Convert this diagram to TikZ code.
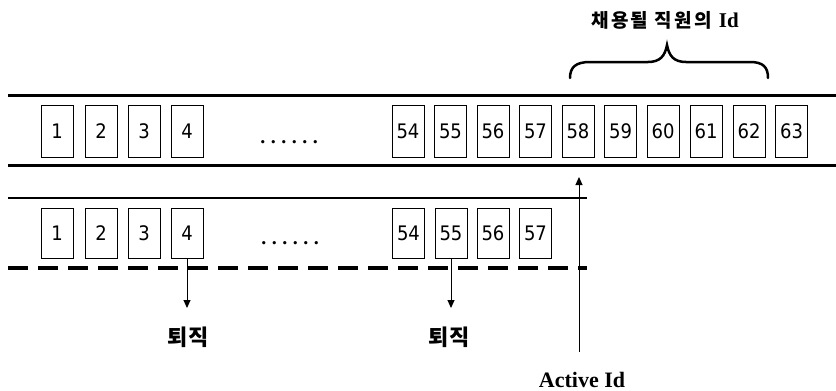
\documentclass[tikz,border=0pt]{standalone}
\usepackage{fontspec}
\setmainfont{Liberation Serif}
\newfontfamily\cellfont{DejaVu Sans Condensed}
\newfontfamily\kr{Noto Sans CJK KR}
\newfontfamily\krwide[LetterSpace=12]{Noto Sans CJK KR}
\usetikzlibrary{arrows.meta}
\begin{document}
\begin{tikzpicture}[x=1pt,y=-1pt,
  cell/.style={draw, line width=0.9pt, minimum width=32pt, inner sep=0pt, font=\cellfont\fontsize{20}{20}\selectfont},
  toprow/.style={cell, minimum height=52pt},
  lowrow/.style={cell, minimum height=50pt},
  rail/.style={line width=3pt},
  dotsnode/.style={inner sep=0pt, font=\bfseries\fontsize{20}{20}\selectfont},
  krlabel/.style={inner sep=0pt, font=\kr\bfseries\fontsize{22}{22}\selectfont},
  arr/.style={line width=1pt, -{Triangle[length=8pt,width=7pt]}}
]
\useasboundingbox (0,0) rectangle (836,391);
% rails
\coordinate (t1a) at (8,95);  \coordinate (t1b) at (836,95);
\coordinate (t2a) at (8,165); \coordinate (t2b) at (836,165);
\coordinate (m1a) at (8,198); \coordinate (m1b) at (587,198);
\coordinate (d1a) at (8,268); \coordinate (d1b) at (587,268);
\draw[rail] (t1a) -- (t1b);
\draw[rail] (t2a) -- (t2b);
\draw[line width=2.4pt] (m1a) -- (m1b);
\draw[line width=4pt, dash pattern=on 20pt off 10pt] (d1a) -- (d1b);
% top row
\node[toprow] (u1) at (57,131) {1};
\node[toprow] (u2) at (101,131) {2};
\node[toprow] (u3) at (144,131) {3};
\node[toprow] (u4) at (187,131) {4};
\node[dotsnode] (udots) at (289,142) {.\hspace{5.5pt}.\hspace{5.5pt}.\hspace{5.5pt}.\hspace{5.5pt}.\hspace{5.5pt}.};
\node[toprow] (u54) at (408,131) {54};
\node[toprow] (u55) at (450.5,131) {55};
\node[toprow] (u56) at (493,131) {56};
\node[toprow] (u57) at (535.5,131) {57};
\node[toprow] (u58) at (578,131) {58};
\node[toprow] (u59) at (620.5,131) {59};
\node[toprow] (u60) at (663,131) {60};
\node[toprow] (u61) at (706,131) {61};
\node[toprow] (u62) at (749,131) {62};
\node[toprow] (u63) at (791.5,131) {63};
% lower row
\node[lowrow] (l1) at (57,233) {1};
\node[lowrow] (l2) at (101,233) {2};
\node[lowrow] (l3) at (144,233) {3};
\node[lowrow] (l4) at (187,233) {4};
\node[dotsnode] (ldots) at (290,243) {.\hspace{5.5pt}.\hspace{5.5pt}.\hspace{5.5pt}.\hspace{5.5pt}.\hspace{5.5pt}.};
\node[lowrow] (l54) at (408.5,233) {54};
\node[lowrow] (l55) at (451,233) {55};
\node[lowrow] (l56) at (493,233) {56};
\node[lowrow] (l57) at (535.5,233) {57};
% retire arrows
\coordinate (r4) at (187,308);
\coordinate (r55) at (451,308);
\draw[arr] (l4.south) -- (r4);
\draw[arr] (l55.south) -- (r55);
\node[krlabel] (q1) at (188,337) {퇴직};
\node[krlabel] (q2) at (449,337) {퇴직};
% active id
\node[inner sep=0pt, font=\bfseries\fontsize{22}{22}\selectfont] (act) at (582,380) {Active Id};
\coordinate (a1) at (579,352);
\coordinate (a2) at (579,177);
\draw[arr] (a1) -- (a2);
% brace and label
\draw[line width=2.5pt, line cap=round]
  (570,78) .. controls (570,67) and (576,62) .. (590,62) -- (648,62)
  .. controls (660,62) and (665,56) .. (667,45)
  .. controls (669,56) and (674,62) .. (686,62) -- (750,62)
  .. controls (763,62) and (768,67) .. (768,78);
\node[inner sep=0pt] (hire) at (665,20) {{\krwide\bfseries\fontsize{19}{19}\selectfont 채용될 직원의}\hspace{7pt}{\bfseries\fontsize{21}{21}\selectfont Id}};
\end{tikzpicture}
\end{document}
